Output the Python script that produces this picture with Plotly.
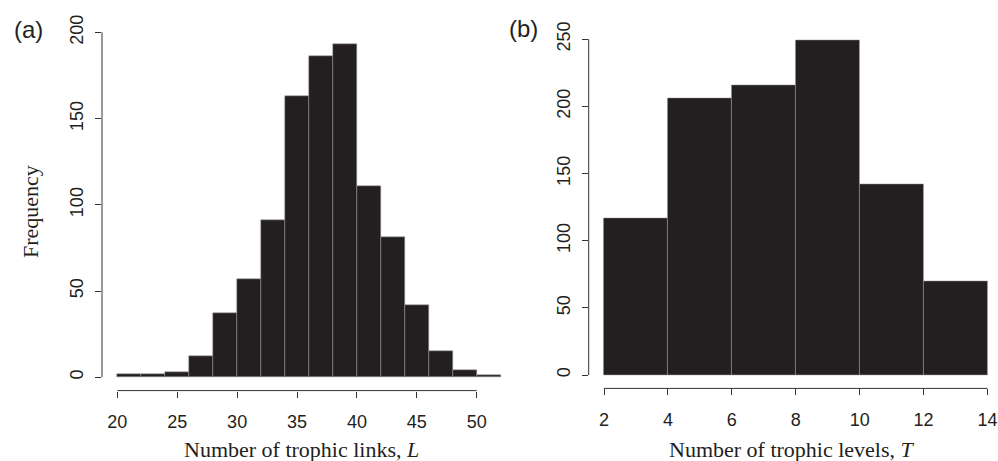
import plotly.graph_objects as go

# ---- data ----
links_bin_left = [20, 22, 24, 26, 28, 30, 32, 34, 36, 38, 40, 42, 44, 46, 48, 50]
links_counts = [2, 2, 3, 12, 37, 57, 91, 163, 186, 193, 111, 81, 42, 15, 4, 1]
links_binwidth = 2
links_xticks = [20, 25, 30, 35, 40, 45, 50]
links_yticks = [0, 50, 100, 150, 200]

levels_bin_left = [2, 4, 6, 8, 10, 12]
levels_counts = [117, 206, 216, 249, 142, 70]
levels_binwidth = 2
levels_xticks = [2, 4, 6, 8, 10, 12, 14]
levels_yticks = [0, 50, 100, 150, 200, 250]

W, H = 998, 461
BAR = "#231f20"
EDGE = "#9a9a9a"
AX = "#333333"
SANS = "Liberation Sans, Arial, sans-serif"
SERIF = "Liberation Serif, Times New Roman, serif"

fig = go.Figure()
fig.add_trace(go.Bar(
    x=[b + links_binwidth / 2 for b in links_bin_left], y=links_counts,
    width=links_binwidth, marker=dict(color=BAR, line=dict(color=EDGE, width=0.5)),
    xaxis="x", yaxis="y", showlegend=False, hoverinfo="skip"))
fig.add_trace(go.Bar(
    x=[b + levels_binwidth / 2 for b in levels_bin_left], y=levels_counts,
    width=levels_binwidth, marker=dict(color=BAR, line=dict(color=EDGE, width=0.5)),
    xaxis="x2", yaxis="y2", showlegend=False, hoverinfo="skip"))

tickfont = dict(family=SANS, size=18, color=BAR)
common_x = dict(showgrid=False, zeroline=False, showline=False, ticks="outside",
                ticklen=6, tickwidth=1, tickcolor=AX, tickfont=tickfont,
                ticklabelstandoff=9, automargin=False)
common_y = dict(showgrid=False, zeroline=False, showline=False, ticks="outside",
                ticklen=6, tickwidth=1, tickcolor=AX, tickfont=tickfont,
                tickangle=-90, ticklabelstandoff=5, automargin=False)

fig.update_layout(
    template="none",
    width=W, height=H, margin=dict(l=0, r=0, t=0, b=0, autoexpand=False),
    paper_bgcolor="white", plot_bgcolor="white", bargap=0,
    xaxis=dict(domain=[102 / W, 516 / W], range=[18.72, 53.28],
               tickvals=links_xticks, anchor="y", **common_x),
    yaxis=dict(domain=[1 - 390.6 / H, 1 - 31.1 / H], range=[-7.72, 200.72],
               tickvals=links_yticks, anchor="x", **common_y),
    xaxis2=dict(domain=[588.7 / W, 1.0], range=[1.52, 14.33],
                tickvals=levels_xticks, anchor="y2", **common_x),
    yaxis2=dict(domain=[1 - 388.4 / H, 1 - 27.2 / H], range=[-9.96, 258.96],
                tickvals=levels_yticks, anchor="x2", **common_y),
)

# R-style detached axis lines spanning first..last tick
shapes = []
for xr, yr, xt, yt in [("x", "y", links_xticks, links_yticks),
                       ("x2", "y2", levels_xticks, levels_yticks)]:
    shapes.append(dict(type="line", xref=xr, yref=yr + " domain",
                       x0=xt[0], x1=xt[-1], y0=0, y1=0,
                       line=dict(color=AX, width=1)))
    shapes.append(dict(type="line", xref=xr + " domain", yref=yr,
                       x0=0, x1=0, y0=yt[0], y1=yt[-1],
                       line=dict(color=AX, width=1)))
fig.update_layout(shapes=shapes)

def ann(text, px, py, font, angle=0):
    return dict(text=text, x=px / W, y=1 - py / H, xref="paper", yref="paper",
                showarrow=False, xanchor="center", yanchor="middle",
                textangle=angle, font=font)

labfont = dict(family=SERIF, size=22, color=BAR)
panfont = dict(family=SANS, size=24, color=BAR)
fig.update_layout(annotations=[
    ann("(a)", 28, 30, panfont),
    ann("(b)", 523, 28, panfont),
    ann("Frequency", 30, 212, labfont, -90),
    ann("Number of trophic links, <i>L</i>", 301, 449, labfont),
    ann("Number of trophic levels, <i>T</i>", 792, 449, labfont),
])

fig.write_html(
    "out.html",
    config={"displayModeBar": False},
    post_script="document.body.style.margin='0px';document.body.style.overflow='hidden';",
)
